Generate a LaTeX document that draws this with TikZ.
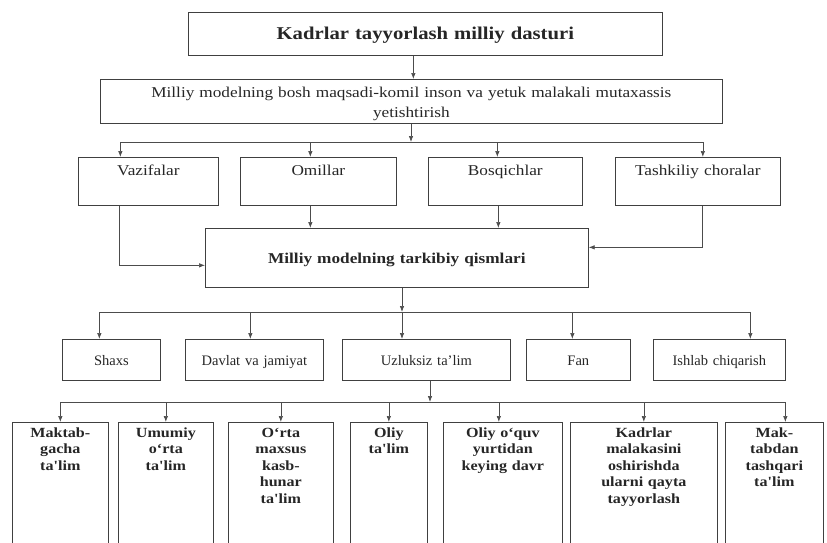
\documentclass[tikz,border=0pt]{standalone}
\usepackage{fontspec}
\setmainfont{Liberation Serif}
\newfontfamily\widefont{Liberation Serif}[FakeStretch=1.15]
\usetikzlibrary{arrows.meta,positioning}

\tikzset{
  box/.style={draw=black!75, line width=0.7pt, inner sep=0pt, align=center, anchor=north west, text=black!85},
  wire/.style={draw=black!70, line width=0.7pt},
  link/.style={wire, -{Latex[length=6pt,width=4.5pt]}},
}

\begin{document}
\begin{tikzpicture}[x=1pt, y=-1pt]
		\path[use as bounding box, clip] (0,0) rectangle (827,542);

		% Define nodes
		\node[box, text width=474pt, text height=27pt, text depth=16pt, font=\widefont\bfseries\fontsize{18}{21}\selectfont] (dastur) at (188,12) {Kadrlar tayyorlash milliy dasturi};
		\node[box, text width=622pt, text height=18pt, text depth=26pt, font=\widefont\fontsize{15}{20}\selectfont] (maqsad) at (100,79) {Milliy modelning bosh maqsadi-komil inson va yetuk malakali mutaxassis\\yetishtirish};

		\node[box, text width=140pt, text height=18pt, text depth=30pt, font=\widefont\fontsize{15}{18}\selectfont] (vazifa) at (78,157) {Vazifalar};
		\node[box, text width=156pt, text height=18pt, text depth=30pt, font=\widefont\fontsize{15}{18}\selectfont] (omil) at (240,157) {Omillar};
		\node[box, text width=154pt, text height=18pt, text depth=30pt, font=\widefont\fontsize{15}{18}\selectfont] (bosqich) at (428,157) {Bosqichlar};
		\node[box, text width=165pt, text height=18pt, text depth=30pt, font=\widefont\fontsize{15}{18}\selectfont] (chora) at (615,157) {Tashkiliy choralar};

		\node[box, text width=383pt, text height=35pt, text depth=24pt, font=\widefont\bfseries\fontsize{15}{18}\selectfont] (tarkib) at (205,228) {Milliy modelning tarkibiy qismlari};

		\node[box, text width=98pt, text height=26pt, text depth=15pt, font=\fontsize{14.5}{17}\selectfont] (shaxs) at (62,339) {Shaxs};
		\node[box, text width=138pt, text height=26pt, text depth=15pt, font=\fontsize{14.5}{17}\selectfont] (davlat) at (185,339) {Davlat va jamiyat};
		\node[box, text width=168pt, text height=26pt, text depth=15pt, font=\fontsize{14.5}{17}\selectfont] (uzluksiz) at (342,339) {Uzluksiz ta'lim};
		\node[box, text width=104pt, text height=26pt, text depth=15pt, font=\fontsize{14.5}{17}\selectfont] (fan) at (526,339) {Fan};
		\node[box, text width=132pt, text height=26pt, text depth=15pt, font=\fontsize{14.5}{17}\selectfont] (ishlab) at (653,339) {Ishlab chiqarish};

		\node[box, text width=96pt, text height=15pt, text depth=110pt, font=\widefont\bfseries\fontsize{14}{16.5}\selectfont] (maktgacha) at (12,422) {Maktab-\\gacha\\ta'lim};
		\node[box, text width=95pt, text height=15pt, text depth=110pt, font=\widefont\bfseries\fontsize{14}{16.5}\selectfont] (umumiy) at (118,422) {Umumiy\\o‘rta\\ta'lim};
		\node[box, text width=105pt, text height=15pt, text depth=110pt, font=\widefont\bfseries\fontsize{14}{16.5}\selectfont] (kasb) at (228,422) {O‘rta\\maxsus\\kasb-\\hunar\\ta'lim};
		\node[box, text width=77pt, text height=15pt, text depth=110pt, font=\widefont\bfseries\fontsize{14}{16.5}\selectfont] (oliy) at (350,422) {Oliy\\ta'lim};
		\node[box, text width=119pt, text height=15pt, text depth=110pt, font=\widefont\bfseries\fontsize{14}{16.5}\selectfont] (keyin) at (443,422) {Oliy o‘quv\\yurtidan\\keying davr};
		\node[box, text width=147pt, text height=15pt, text depth=110pt, font=\widefont\bfseries\fontsize{14}{16.5}\selectfont] (malaka) at (570,422) {Kadrlar\\malakasini\\oshirishda\\ularni qayta\\tayyorlash};
		\node[box, text width=98pt, text height=15pt, text depth=110pt, font=\widefont\bfseries\fontsize{14}{16.5}\selectfont] (maktdan) at (725,422) {Mak-\\tabdan\\tashqari\\ta'lim};

		\coordinate (bus1) at (411,142);
		\coordinate (bus2) at (402,312);
		\coordinate (bus3) at (430,402);

		% Connect the nodes
		\draw[link] ([xshift=-12pt]dastur.south) -- ([xshift=-12pt]dastur.south |- maqsad.north);

		\draw[link] (maqsad.south -| bus1) -- (bus1);
		\draw[wire] ([xshift=-28pt]vazifa.north |- bus1) -- ([xshift=5pt]chora.north |- bus1);
		\draw[link] ([xshift=-28pt]vazifa.north |- bus1) -- ([xshift=-28pt]vazifa.north);
		\draw[link] ([xshift=-8pt]omil.north |- bus1) -- ([xshift=-8pt]omil.north);
		\draw[link] ([xshift=-8pt]bosqich.north |- bus1) -- ([xshift=-8pt]bosqich.north);
		\draw[link] ([xshift=5pt]chora.north |- bus1) -- ([xshift=5pt]chora.north);

		\draw[link] ([xshift=-29pt]vazifa.south) |- ([yshift=-7.5pt]tarkib.west);
		\draw[link] ([xshift=-8pt]omil.south) -- ([xshift=-8pt]omil.south |- tarkib.north);
		\draw[link] ([xshift=-7pt]bosqich.south) -- ([xshift=-7pt]bosqich.south |- tarkib.north);
		\draw[link] ([xshift=4.5pt]chora.south) |- ([yshift=10.5pt]tarkib.east);

		\draw[link] (tarkib.south -| bus2) -- (bus2);
		\draw[wire] ([xshift=-12pt]shaxs.north |- bus2) -- ([xshift=31pt]ishlab.north |- bus2);
		\draw[link] ([xshift=-12pt]shaxs.north |- bus2) -- ([xshift=-12pt]shaxs.north);
		\draw[link] ([xshift=-4pt]davlat.north |- bus2) -- ([xshift=-4pt]davlat.north);
		\draw[link] (bus2) -- (uzluksiz.north -| bus2);
		\draw[link] ([xshift=-6pt]fan.north |- bus2) -- ([xshift=-6pt]fan.north);
		\draw[link] ([xshift=31pt]ishlab.north |- bus2) -- ([xshift=31pt]ishlab.north);

		\draw[link] (uzluksiz.south -| bus3) -- (bus3);
		\draw[wire] (maktgacha.north |- bus3) -- ([xshift=11pt]maktdan.north |- bus3);
		\draw[link] (maktgacha.north |- bus3) -- (maktgacha.north);
		\draw[link] (umumiy.north |- bus3) -- (umumiy.north);
		\draw[link] (kasb.north |- bus3) -- (kasb.north);
		\draw[link] (oliy.north |- bus3) -- (oliy.north);
		\draw[link] ([xshift=-4pt]keyin.north |- bus3) -- ([xshift=-4pt]keyin.north);
		\draw[link] (malaka.north |- bus3) -- (malaka.north);
		\draw[link] ([xshift=11pt]maktdan.north |- bus3) -- ([xshift=11pt]maktdan.north);
	\end{tikzpicture}
\end{document}
